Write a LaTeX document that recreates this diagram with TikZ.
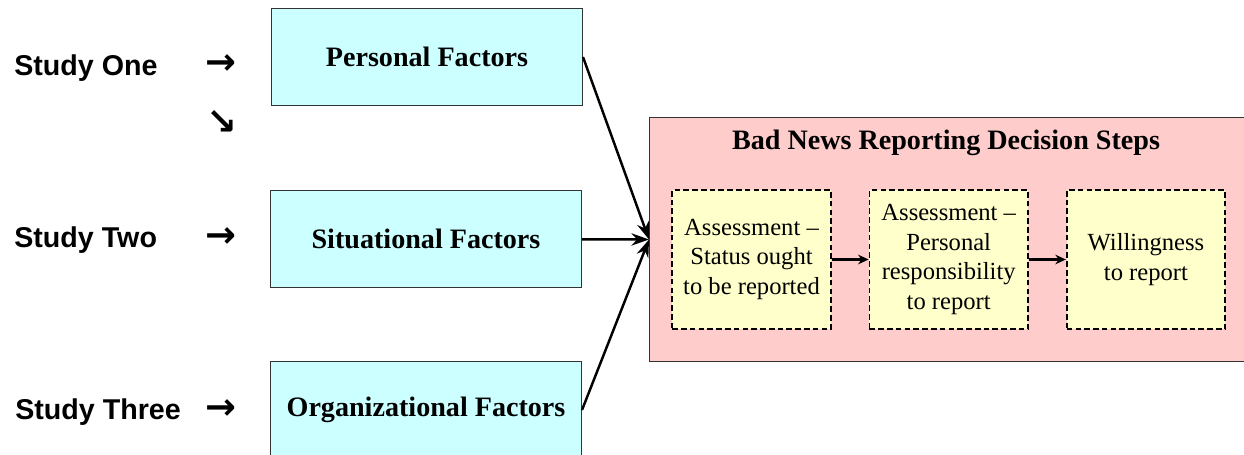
\documentclass[tikz,border=0pt]{standalone}
\usepackage{fontspec}
\setmainfont{Liberation Serif}
\newfontfamily\studyfont{Liberation Sans}
\newfontfamily\arrowfont{DejaVu Sans}
\usetikzlibrary{positioning,arrows.meta}

\definecolor{factorcyan}{HTML}{CCFFFF}
\definecolor{framepink}{HTML}{FFCCCC}
\definecolor{stepyellow}{HTML}{FFFFCC}

\tikzset{
	study/.style={anchor=base west, inner sep=0pt, font=\studyfont\bfseries\fontsize{16.3}{19}\selectfont},
	marker/.style={inner sep=0pt, font=\arrowfont\bfseries\fontsize{21}{24}\selectfont},
	factor/.style={draw=black!80, fill=factorcyan, line width=0.6pt, minimum width=6.22cm, minimum height=1.94cm, font=\bfseries\fontsize{16}{19}\selectfont},
	stepbox/.style={draw, dash pattern=on 3.2pt off 1.8pt, line width=1pt, fill=stepyellow, minimum width=3.17cm, minimum height=2.78cm, align=center, inner sep=1pt, font=\fontsize{14}{17}\selectfont},
}

\begin{document}
\begin{tikzpicture}[x=0.02cm, y=-0.02cm, node distance = 0.74cm]
		\useasboundingbox (0,0) rectangle (1244,455);
		% Studies
		\node[study] (one)   at (14,76)  {Study One};
		\node[study] (two)   at (14,248) {Study Two};
		\node[study] (three) at (15,420) {Study Three};
		\node[marker] (m1) at (221,65)  {→};
		\node[marker] (m2) at (222,123) {↘};
		\node[marker] (m3) at (221,238) {→};
		\node[marker] (m4) at (221,410) {→};
		% Factors
		\node[factor] (personal)       at (427,57)  {Personal Factors};
		\node[factor] (situational)    at (426,239) {Situational Factors};
		\node[factor] (organizational) at (426,410) {Organizational Factors};
		% Decision steps
		\node[draw=black!80, fill=framepink, line width=0.6pt, anchor=north west, minimum width=12.4cm, minimum height=4.88cm, inner sep=0pt] (frame) at (649,117) {};
		\node[font=\bfseries\fontsize{16}{19}\selectfont] (title) at (946,143) {Bad News Reporting Decision Steps};
		\node[stepbox] (status) at (751.5,259.5) {Assessment --\\Status ought\\to be reported};
		\node[stepbox] (duty) [right=of status] {Assessment --\\Personal\\responsibility\\to report};
		\node[stepbox] (willing) [right=of duty] {Willingness\\to report};
		%Arrows
		\path[->, >={Stealth[length=10pt, width=7pt]}, line width=1.4pt]
		(personal.east) edge (frame.west)
		(situational) edge (frame.west)
		(organizational.east) edge (frame.west)
		;
		\path[->, >={Stealth[length=6pt, width=5.5pt]}, line width=1.6pt]
		(status) edge (duty)
		(duty) edge (willing)
		;
	\end{tikzpicture}
\end{document}
